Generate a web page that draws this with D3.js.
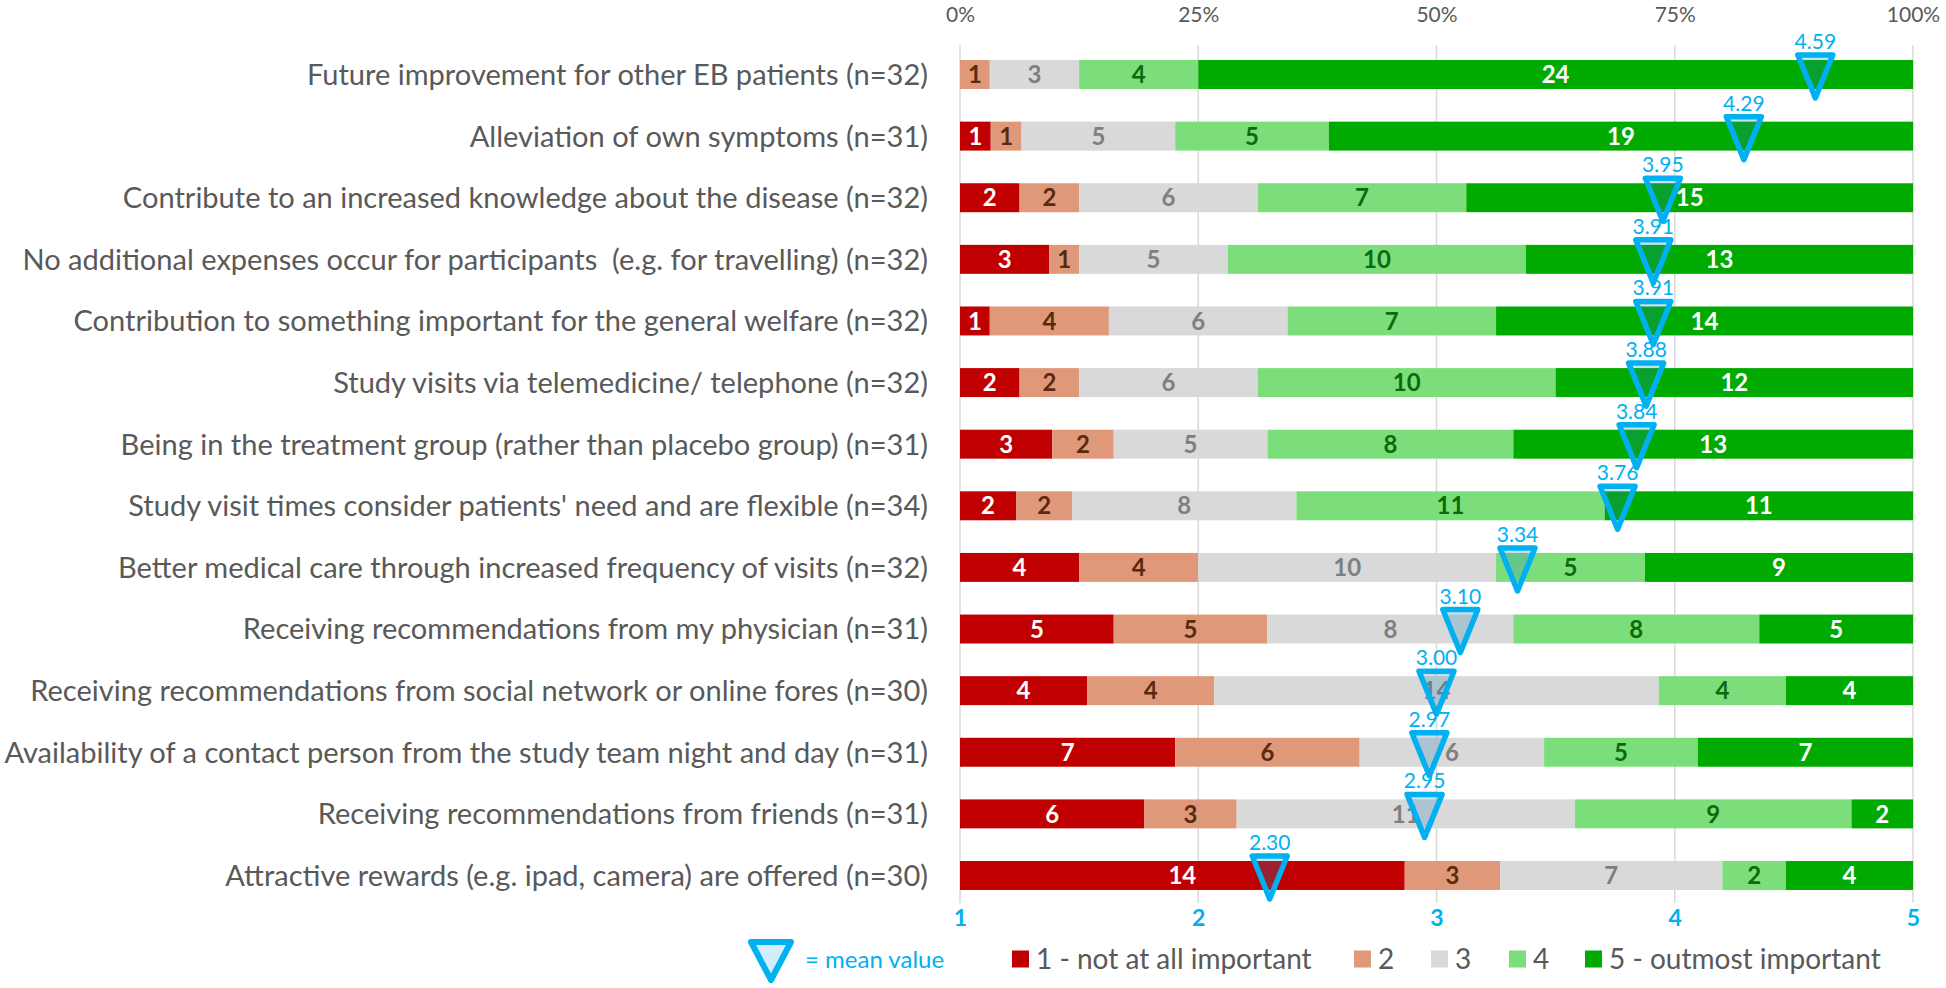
<!DOCTYPE html>
<html>
<head>
<meta charset="utf-8">
<script src="https://cdn.jsdelivr.net/npm/d3@7"></script>
<style>
  html, body { margin: 0; padding: 0; background: #fff; }
  svg { display: block; }
  text { font-family: Lato, "Open Sans", sans-serif; }
</style>
</head>
<body>
<svg id="chart" width="1946" height="988"></svg>
<script>
const categories = [
  "Future improvement for other EB patients (n=32)",
  "Alleviation of own symptoms (n=31)",
  "Contribute to an increased knowledge about the disease (n=32)",
  "No additional expenses occur for participants  (e.g. for travelling) (n=32)",
  "Contribution to something important for the general welfare (n=32)",
  "Study visits via telemedicine/ telephone (n=32)",
  "Being in the treatment group (rather than placebo group) (n=31)",
  "Study visit times consider patients' need and are flexible (n=34)",
  "Better medical care through increased frequency of visits (n=32)",
  "Receiving recommendations from my physician (n=31)",
  "Receiving recommendations from social network or online fores (n=30)",
  "Availability of a contact person from the study team night and day (n=31)",
  "Receiving recommendations from friends (n=31)",
  "Attractive rewards (e.g. ipad, camera) are offered (n=30)"
];
const s1 = [0, 1, 2, 3, 1, 2, 3, 2, 4, 5, 4, 7, 6, 14];
const s2 = [1, 1, 2, 1, 4, 2, 2, 2, 4, 5, 4, 6, 3, 3];
const s3 = [3, 5, 6, 5, 6, 6, 5, 8, 10, 8, 14, 6, 11, 7];
const s4 = [4, 5, 7, 10, 7, 10, 8, 11, 5, 8, 4, 5, 9, 2];
const s5 = [24, 19, 15, 13, 14, 12, 13, 11, 9, 5, 4, 7, 2, 4];
const means = [4.59, 4.29, 3.95, 3.91, 3.91, 3.88, 3.84, 3.76, 3.34, 3.10, 3.00, 2.97, 2.95, 2.30];
const seriesNames = ["1 - not at all important", "2", "3", "4", "5 - outmost important"];
const pctTicks = [0, 0.25, 0.5, 0.75, 1];
const meanTicks = [1, 2, 3, 4, 5];
const meanLegendLabel = "= mean value";

const keys = ["s1", "s2", "s3", "s4", "s5"];
const fills = ["#C00000", "#E0987A", "#D9D9D9", "#7BDE7B", "#00AA00"];
const labelColors = ["#FFFFFF", "#5A2A0E", "#7F7F7F", "#0B6B0B", "#FFFFFF"];
const BLUE = "#00B0F0";

const rows = categories.map((c, i) => {
  const r = { cat: c, s1: s1[i], s2: s2[i], s3: s3[i], s4: s4[i], s5: s5[i], mean: means[i] };
  r.n = s1[i] + s2[i] + s3[i] + s4[i] + s5[i];
  return r;
});

const svg = d3.select("#chart");
const X0 = 960, X1 = 1913;
const xPct = d3.scaleLinear().domain([0, 1]).range([X0, X1]);
const xMean = d3.scaleLinear().domain([1, 5]).range([X0, X1]);
const y = d3.scaleBand().domain(categories).range([43.7, 906.3]).paddingInner(0.53).paddingOuter(0.265);

// gridlines
svg.append("g").selectAll("line").data(pctTicks).join("line")
  .attr("x1", d => xPct(d)).attr("x2", d => xPct(d))
  .attr("y1", 45).attr("y2", 903)
  .attr("stroke", "#D9D9D9").attr("stroke-width", 1.5);

// top axis
const topAxis = svg.append("g").attr("transform", "translate(0,22)")
  .call(d3.axisTop(xPct).tickValues(pctTicks).tickFormat(d3.format(".0%")).tickSize(0).tickPadding(0));
topAxis.select(".domain").remove();
topAxis.selectAll("text").attr("font-family", "Lato").attr("font-size", 21).attr("fill", "#595959").attr("dy", 0);

// bottom axis
const botAxis = svg.append("g").attr("transform", "translate(0,910)")
  .call(d3.axisBottom(xMean).tickValues(meanTicks).tickFormat(d3.format("d")).tickSize(0).tickPadding(0));
botAxis.select(".domain").remove();
botAxis.selectAll("text").attr("font-family", "Lato").attr("font-size", 23).attr("font-weight", "bold")
  .attr("fill", BLUE).attr("dy", "0.71em");

// stacked bars
const stack = d3.stack().keys(keys).value((d, k) => d[k] / d.n);
const series = stack(rows);

const gBars = svg.append("g");
series.forEach((s, si) => {
  const g = gBars.append("g");
  g.selectAll("rect").data(s).join("rect")
    .attr("x", d => xPct(d[0]))
    .attr("width", d => Math.max(0, xPct(d[1]) - xPct(d[0])))
    .attr("y", d => y(d.data.cat))
    .attr("height", y.bandwidth())
    .attr("fill", fills[si]);
});
series.forEach((s, si) => {
  gBars.append("g").selectAll("text").data(s.filter(d => d.data[keys[si]] > 0)).join("text")
    .attr("x", d => (xPct(d[0]) + xPct(d[1])) / 2)
    .attr("y", d => y(d.data.cat) + y.bandwidth() / 2)
    .attr("dy", "0.36em")
    .attr("text-anchor", "middle")
    .attr("font-size", 24)
    .attr("font-weight", "bold")
    .attr("fill", labelColors[si])
    .text(d => d.data[keys[si]]);
});

// category labels
const catLabels = svg.append("g").selectAll("text").data(categories).join("text")
  .attr("x", 928)
  .attr("y", d => y(d) + y.bandwidth() / 2)
  .attr("dy", "0.36em")
  .attr("text-anchor", "end")
  .attr("fill", "#595959")
  .style("white-space", "pre")
  .attr("font-size", 100)
  .text(d => d);
// fit font size so that the longest label spans the reference width
const longest = d3.max(catLabels.nodes(), n => n.getComputedTextLength());
const fs = Math.min(34, 100 * 924 / longest);
catLabels.attr("font-size", fs);

// mean markers
const TW = 35, TH = 43;
const triPath = `M${-TW / 2},0 L${TW / 2},0 L0,${TH} Z`;
const gMean = svg.append("g");
gMean.selectAll("path").data(rows).join("path")
  .attr("transform", d => `translate(${xMean(d.mean)},${y(d.cat) - 5})`)
  .attr("d", triPath)
  .attr("fill", "rgba(40,130,190,0.25)")
  .attr("stroke", BLUE).attr("stroke-width", 5.5).attr("stroke-linejoin", "round");
gMean.selectAll("text").data(rows).join("text")
  .attr("x", d => xMean(d.mean))
  .attr("y", d => y(d.cat) - 11)
  .attr("text-anchor", "middle")
  .attr("font-size", 21)
  .attr("fill", BLUE)
  .text(d => d.mean.toFixed(2));

// legend
const LY = 959;
const lg = svg.append("g");
lg.append("path")
  .attr("transform", `translate(771,${LY - 17})`)
  .attr("d", `M-20,0 L20,0 L0,38 Z`)
  .attr("fill", "#D2EEFA").attr("stroke", BLUE).attr("stroke-width", 6).attr("stroke-linejoin", "round");
lg.append("text").attr("x", 805).attr("y", LY).attr("dy", "0.36em")
  .attr("font-size", 24).attr("fill", BLUE).text(meanLegendLabel);
const legendX = [1012, 1354, 1431, 1509, 1585];
seriesNames.forEach((name, i) => {
  lg.append("rect").attr("x", legendX[i]).attr("y", LY - 8.5).attr("width", 17).attr("height", 17).attr("fill", fills[i]);
  lg.append("text").attr("x", legendX[i] + 24).attr("y", LY).attr("dy", "0.36em")
    .attr("font-size", 28).attr("fill", "#595959").text(name);
});
</script>
</body>
</html>
